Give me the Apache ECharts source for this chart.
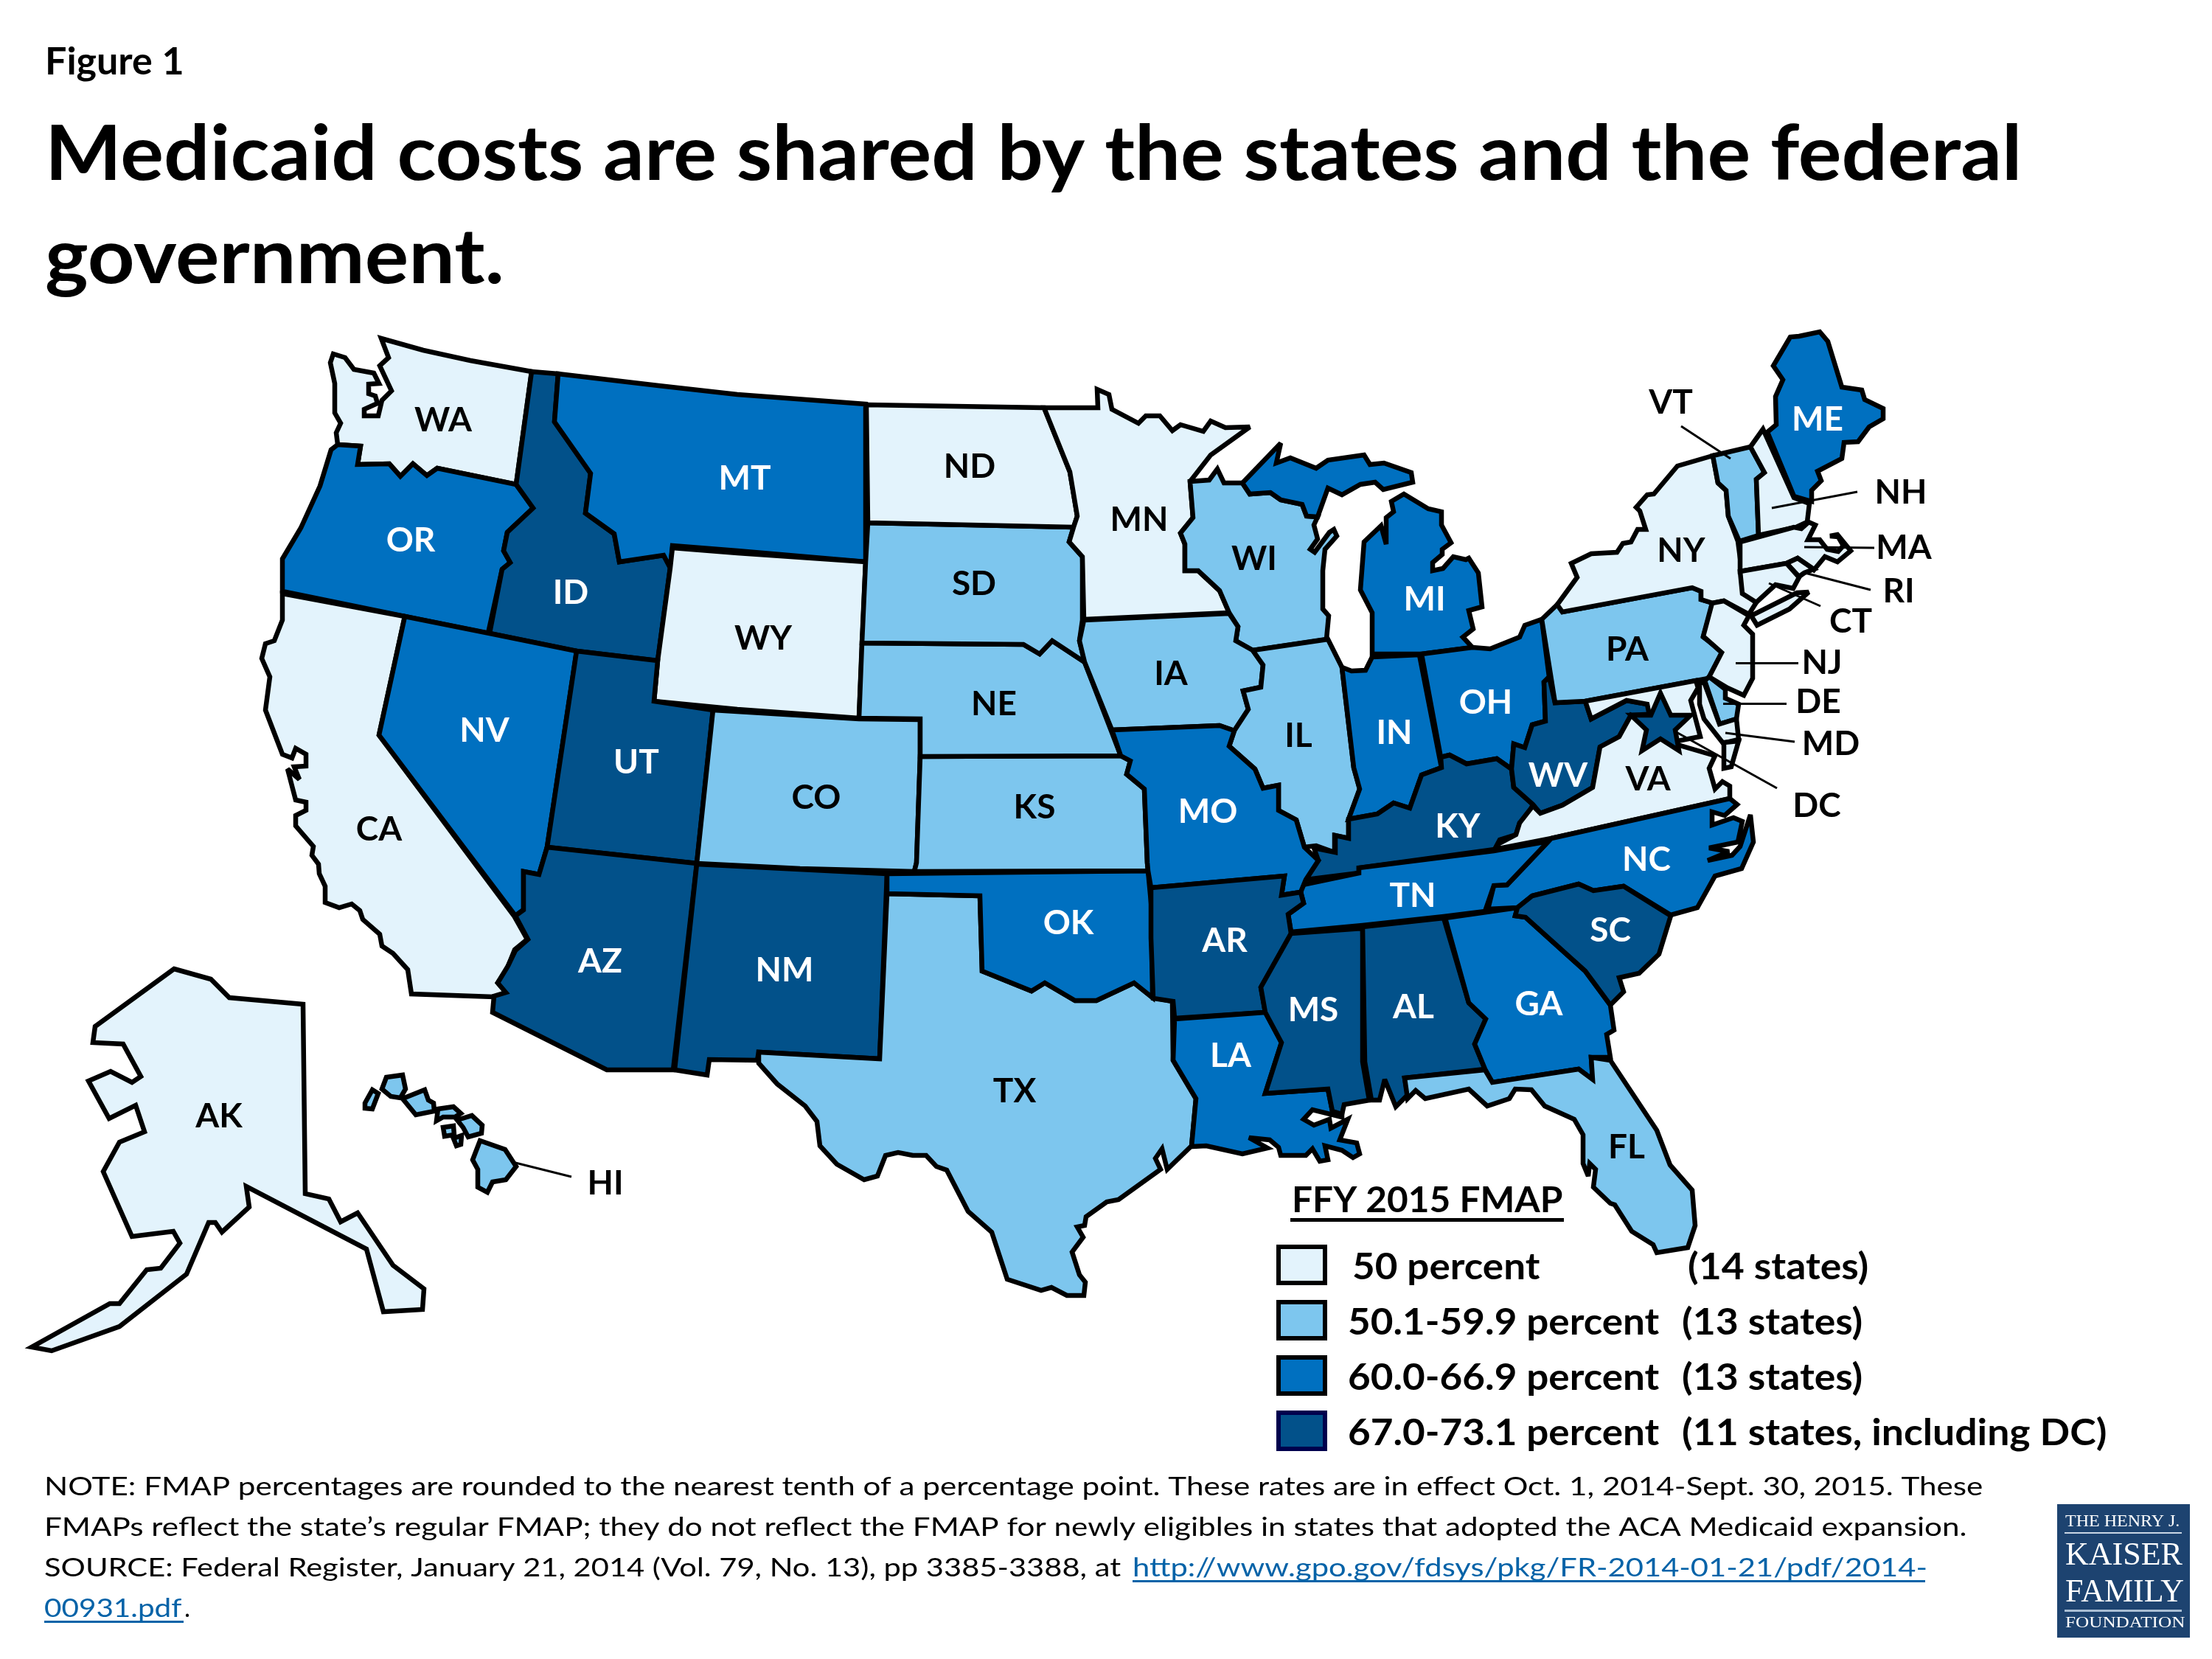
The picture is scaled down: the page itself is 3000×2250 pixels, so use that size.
<!DOCTYPE html>
<html>
<head>
<meta charset="utf-8">
<title>Medicaid FMAP FFY 2015</title>
<script src="https://cdn.jsdelivr.net/npm/echarts@6/dist/echarts.min.js"></script>
<style>
  html, body { margin: 0; padding: 0; background: #fff; }
  #chart { width: 3000px; height: 2250px; }
</style>
</head>
<body>
<div id="chart"></div>
<script>
// states per FMAP tier
const tier50 = ['AK', 'CA', 'CT', 'MA', 'MD', 'MN', 'ND', 'NH', 'NJ', 'NY', 'RI', 'VA', 'WA', 'WY']
const tier50to59 = ['CO', 'DE', 'FL', 'HI', 'IA', 'IL', 'KS', 'NE', 'PA', 'SD', 'TX', 'VT', 'WI']
const tier60to66 = ['GA', 'IN', 'LA', 'ME', 'MI', 'MO', 'MT', 'NC', 'NV', 'OH', 'OK', 'OR', 'TN']
const tier67to73 = ['AL', 'AR', 'AZ', 'DC', 'ID', 'KY', 'MS', 'NM', 'SC', 'UT', 'WV']
const tierValues = [50, 55, 63.5, 70]

const legendLabels = ['50 percent', '50.1-59.9 percent', '60.0-66.9 percent', '67.0-73.1 percent']
const legendCounts = ['(14 states)', '(13 states)', '(13 states)', '(11 states, including DC)']
const tierColors = ['#E3F3FC', '#7DC6EE', '#0070C0', '#02518A']
const tierLabelColors = ['#000', '#000', '#fff', '#fff']

// map geography (picture pixels): flat x,y lists, one list per ring
const stateShapes = {
  WA: [[517,459,574,475,638,489,721,504,700,657,593,635,579,645,560,629,543,646,528,629,485,630,489,605,458,603,456,587,462,574,454,560,454,520,448,492,452,480,468,485,480,501,507,506,514,520,500,521,500,534,509,537,512,547,494,555,494,564,513,564,518,543,531,530,515,496,527,485]],
  OR: [[458,603,489,605,485,630,528,629,543,646,560,629,579,645,593,635,700,657,723,689,688,722,683,747,692,763,681,772,662,859,549,836,383,802,383,758,408,716,434,659,449,610]],
  CA: [[383,805,549,836,514,997,697,1242,715,1274,698,1288,688,1313,675,1333,687,1347,670,1352,558,1348,553,1315,533,1293,518,1283,515,1267,492,1247,488,1235,477,1226,460,1231,441,1224,441,1202,433,1185,432,1172,423,1160,425,1148,401,1120,401,1106,415,1099,415,1088,401,1085,390,1043,406,1057,399,1040,415,1039,415,1023,401,1015,396,1028,383,1023,360,963,366,918,355,893,360,873,372,869,383,841]],
  ID: [[721,504,757,507,752,572,801,642,794,696,833,724,840,762,900,753,909,770,892,896,782,883,664,859,681,772,692,763,683,747,688,722,723,689,700,657]],
  MT: [[757,507,893,523,1000,535,1174,548,1174,762,1000,747,912,740,909,770,900,753,840,762,833,724,794,696,801,642,752,572]],
  WY: [[912,743,1000,750,1174,762,1165,974,1000,962,887,951,892,896,909,770]],
  NV: [[549,836,664,859,782,883,742,1149,731,1186,710,1182,710,1234,699,1242,514,997]],
  UT: [[782,883,892,896,887,951,967,963,945,1171,742,1149]],
  CO: [[967,963,1000,965,1165,975,1248,976,1248,1025,1243,1170,1240,1182,1085,1178,945,1171]],
  AZ: [[742,1149,945,1171,913,1451,823,1451,668,1373,670,1351,686,1346,675,1333,689,1310,699,1289,716,1274,699,1242,710,1234,710,1182,731,1186]],
  NM: [[945,1172,1203,1185,1193,1436,1029,1427,1027,1438,962,1437,959,1458,915,1451]],
  TX: [[1203,1212,1329,1215,1332,1317,1399,1344,1417,1333,1458,1357,1487,1357,1538,1333,1563,1353,1590,1358,1591,1438,1622,1490,1616,1554,1583,1586,1576,1558,1567,1571,1574,1586,1517,1627,1501,1630,1473,1650,1471,1662,1461,1664,1469,1678,1454,1698,1464,1729,1472,1739,1470,1757,1447,1757,1426,1746,1412,1750,1366,1735,1345,1671,1313,1643,1284,1587,1270,1582,1256,1567,1238,1567,1218,1563,1201,1567,1190,1595,1172,1600,1135,1579,1112,1554,1108,1521,1092,1500,1054,1470,1029,1442,1029,1427,1193,1436]],
  OK: [[1203,1185,1557,1181,1562,1234,1563,1353,1538,1333,1487,1357,1458,1357,1417,1333,1399,1344,1332,1317,1329,1215,1203,1212]],
  KS: [[1248,1026,1520,1025,1533,1032,1528,1050,1552,1070,1556,1170,1557,1181,1240,1182,1243,1170]],
  NE: [[1169,872,1388,874,1410,887,1427,869,1471,898,1507,991,1520,1025,1248,1026,1248,975,1165,974]],
  SD: [[1177,709,1456,715,1450,735,1468,755,1468,841,1464,869,1471,898,1427,869,1410,887,1388,874,1169,872,1174,762]],
  ND: [[1175,549,1416,553,1451,640,1461,700,1456,715,1177,709]],
  MN: [[1416,553,1489,553,1488,528,1504,535,1508,555,1544,574,1554,564,1573,564,1590,584,1601,576,1632,585,1642,571,1662,580,1695,579,1642,617,1614,653,1618,702,1601,723,1607,738,1607,774,1625,774,1654,801,1667,831,1470,840,1468,755,1450,735,1456,715,1461,700,1451,640]],
  WI: [[1614,653,1640,651,1651,636,1660,655,1685,655,1695,670,1723,668,1737,678,1766,684,1772,700,1787,701,1782,712,1787,731,1777,745,1783,749,1803,722,1809,718,1813,727,1797,745,1794,774,1794,826,1802,835,1799,867,1699,882,1676,869,1679,850,1667,831,1654,801,1625,774,1607,774,1607,738,1601,723,1618,702]],
  MI: [[1685,655,1737,601,1731,628,1750,621,1785,635,1801,624,1850,617,1858,630,1877,628,1914,641,1916,654,1876,664,1865,654,1845,657,1820,671,1801,662,1787,701,1772,700,1766,684,1737,678,1723,668,1695,670],
       [1861,887,1861,831,1845,800,1850,735,1873,713,1880,738,1880,702,1890,694,1887,680,1904,670,1937,690,1955,694,1955,712,1968,736,1956,745,1956,752,1943,763,1943,774,1957,771,1971,755,1988,759,1992,757,2005,777,2010,823,1992,828,1998,853,1984,864,1997,878,1928,887]],
  IA: [[1470,841,1667,832,1679,850,1676,869,1699,882,1713,902,1710,932,1686,937,1693,962,1674,991,1654,984,1508,990,1471,898,1464,869]],
  IL: [[1699,882,1801,867,1820,905,1836,1041,1844,1070,1829,1111,1829,1137,1810,1133,1810,1156,1785,1147,1769,1149,1758,1112,1734,1099,1734,1065,1713,1069,1702,1043,1667,1012,1674,991,1693,962,1686,937,1710,932,1713,902]],
  IN: [[1820,905,1833,910,1852,909,1861,891,1925,888,1955,1041,1928,1051,1912,1096,1890,1089,1868,1104,1829,1111,1844,1070,1836,1041]],
  OH: [[1928,887,1997,878,2021,880,2061,864,2068,848,2091,840,2101,918,2094,925,2096,978,2078,983,2068,1014,2053,1009,2050,1043,2030,1029,1989,1036,1966,1024,1954,1027]],
  KY: [[1954,1027,1966,1024,1989,1036,2030,1029,2050,1043,2053,1068,2079,1091,2071,1109,2061,1116,2056,1132,2034,1139,2027,1152,1843,1177,1843,1184,1771,1193,1788,1167,1782,1150,1811,1156,1811,1133,1829,1137,1829,1111,1868,1104,1890,1089,1912,1096,1928,1051,1955,1041]],
  WV: [[2101,918,2109,953,2150,951,2158,975,2206,950,2234,955,2252,968,2212,970,2196,999,2170,1013,2160,1068,2119,1092,2089,1103,2079,1091,2053,1068,2050,1043,2053,1009,2068,1014,2078,983,2096,978,2094,925]],
  PA: [[2091,840,2112,820,2119,830,2295,797,2307,802,2307,813,2323,818,2310,864,2336,884,2317,920,2150,951,2109,953]],
  NY: [[2112,820,2139,783,2131,764,2158,751,2193,749,2201,737,2212,735,2221,718,2232,718,2224,693,2219,688,2234,671,2243,670,2275,632,2323,618,2330,655,2341,665,2344,700,2357,734,2362,772,2364,805,2382,817,2372,833,2338,815,2323,818,2307,813,2307,802,2295,797,2119,830],
       [2375,835,2383,848,2427,826,2453,803,2437,804]],
  VT: [[2323,618,2374,606,2393,641,2382,650,2385,726,2359,734,2344,700,2341,665,2330,655]],
  NH: [[2374,606,2391,582,2433,675,2454,683,2451,708,2436,715,2385,726,2382,650,2393,641]],
  ME: [[2397,586,2409,576,2408,538,2418,515,2405,496,2428,457,2440,456,2468,450,2479,463,2498,525,2525,529,2529,542,2554,554,2554,568,2535,579,2520,599,2501,600,2498,622,2465,639,2470,652,2457,665,2457,680,2433,673]],
  MA: [[2360,735,2433,715,2443,717,2453,708,2462,712,2452,732,2468,732,2478,745,2493,748,2500,740,2493,728,2482,727,2492,725,2510,747,2492,762,2475,755,2460,773,2438,757,2423,764,2360,775]],
  RI: [[2423,764,2438,757,2460,772,2447,777,2440,782]],
  CT: [[2360,775,2423,764,2440,783,2432,798,2408,793,2382,817,2363,805]],
  NJ: [[2322,818,2338,815,2372,835,2365,848,2377,860,2377,920,2365,943,2343,933,2318,918,2335,885,2310,863]],
  DE: [[2312,923,2318,918,2340,935,2340,947,2358,955,2355,975,2332,982]],
  MD: [[2150,951,2300,923,2303,933,2293,950,2306,999,2265,1007,2240,985,2234,955,2206,950,2158,975],
       [2305,927,2311,925,2332,982,2355,975,2358,1003,2337,1008,2311,975,2305,955]],
  VA: [[2033,1144,2056,1132,2061,1116,2079,1093,2089,1103,2119,1092,2160,1068,2170,1013,2196,999,2212,970,2240,985,2265,1007,2326,1025,2318,1042,2326,1070,2336,1060,2346,1066,2346,1083,2104,1137,2027,1152],
       [2338,1007,2358,1005,2348,1040,2338,1042]],
  NC: [[2104,1137,2346,1083,2356,1091,2339,1106,2322,1101,2322,1119,2351,1109,2363,1114,2357,1142,2318,1150,2345,1155,2316,1167,2349,1160,2360,1148,2374,1105,2378,1142,2362,1178,2326,1188,2302,1231,2266,1241,2202,1202,2161,1208,2141,1199,2078,1215,2058,1231,2018,1233,2026,1201,2044,1200]],
  TN: [[2026,1154,2100,1141,2044,1200,2026,1201,2014,1236,1958,1243,1848,1255,1751,1264,1747,1240,1768,1225,1762,1201,1843,1184,1843,1177]],
  MO: [[1508,990,1654,984,1674,991,1667,1012,1702,1043,1713,1069,1734,1065,1734,1099,1758,1112,1769,1149,1788,1167,1771,1193,1764,1210,1738,1214,1742,1188,1561,1204,1557,1181,1556,1170,1552,1070,1528,1050,1533,1032,1520,1025]],
  AR: [[1561,1204,1742,1188,1738,1214,1764,1210,1768,1225,1747,1240,1751,1266,1710,1339,1716,1373,1593,1381,1591,1358,1564,1354,1561,1272]],
  LA: [[1593,1382,1716,1373,1738,1414,1716,1483,1801,1477,1807,1507,1820,1511,1820,1515,1780,1505,1768,1518,1782,1526,1803,1518,1805,1530,1828,1518,1817,1546,1840,1550,1844,1565,1835,1570,1820,1560,1797,1554,1801,1573,1790,1575,1780,1558,1771,1567,1737,1567,1734,1556,1722,1546,1694,1543,1719,1557,1685,1565,1636,1554,1616,1555,1622,1490,1591,1438]],
  MS: [[1751,1266,1848,1259,1848,1440,1857,1492,1823,1498,1820,1511,1807,1507,1801,1477,1716,1483,1738,1414,1716,1373,1710,1339]],
  AL: [[1848,1257,1958,1245,1992,1360,2015,1382,2000,1416,2014,1450,1905,1462,1909,1485,1893,1501,1878,1464,1871,1492,1860,1492,1851,1440]],
  GA: [[1960,1245,2058,1231,2055,1242,2069,1244,2150,1317,2184,1363,2189,1397,2179,1403,2184,1434,2158,1434,2160,1464,2141,1450,2024,1468,2014,1450,2000,1416,2015,1382,1992,1360]],
  SC: [[2058,1231,2078,1215,2141,1199,2161,1208,2202,1202,2266,1242,2250,1294,2223,1320,2196,1326,2202,1345,2184,1363,2150,1317,2069,1244,2055,1242]],
  FL: [[2184,1438,2247,1533,2265,1580,2295,1614,2299,1662,2289,1692,2247,1699,2242,1688,2213,1670,2190,1634,2184,1632,2161,1610,2164,1586,2156,1578,2154,1595,2147,1578,2147,1539,2135,1518,2095,1500,2077,1478,2055,1477,2047,1490,2017,1500,1992,1477,1933,1490,1920,1479,1909,1490,1905,1462,2014,1451,2024,1468,2141,1450,2160,1464,2158,1434]],
  AK: [[236,1314,286,1328,311,1353,411,1362,414,1619,446,1626,462,1657,485,1645,533,1716,575,1748,573,1776,520,1779,497,1694,334,1609,338,1637,301,1671,292,1658,283,1658,253,1728,162,1799,70,1832,43,1827,149,1768,162,1768,199,1722,218,1720,244,1686,235,1670,179,1677,140,1589,162,1549,196,1535,184,1499,148,1517,120,1466,150,1453,179,1468,191,1460,167,1416,126,1414,129,1392]],
  HI: [[505,1478,513,1483,505,1504,495,1503,495,1496],
       [524,1461,546,1458,550,1477,543,1489,530,1487,518,1477],
       [546,1490,576,1478,581,1492,588,1496,589,1507,564,1512],
       [594,1504,615,1501,625,1510,617,1515,601,1515,592,1520],
       [620,1519,640,1513,654,1526,653,1537,635,1542,628,1529],
       [601,1529,615,1527,616,1539,603,1541],
       [615,1544,626,1540,625,1552,619,1554],
       [651,1547,685,1559,700,1582,686,1600,668,1603,661,1617,648,1610,648,1586,641,1573]],
  DC: [[2252,940,2266,970,2293,970,2272,990,2277,1018,2252,1002,2227,1018,2233,990,2212,970,2239,970]]
}

// where each state's abbreviation sits
const labelPoints = {
  WA: [601,568], OR: [557,731], CA: [514,1123], ID: [774,802], MT: [1010,647], WY: [1035,864],
  NV: [657,989], UT: [863,1032], CO: [1107,1080], AZ: [814,1302], NM: [1064,1314], TX: [1376,1478],
  OK: [1449,1250], KS: [1403,1093], NE: [1348,953], SD: [1321,790], ND: [1315,631], MN: [1545,703],
  WI: [1701,756], MI: [1932,811], IA: [1588,912], IL: [1761,996], IN: [1891,992], OH: [2015,951],
  KY: [1977,1119], WV: [2113,1050], PA: [2207,879], NY: [2280,745], VT: [2266,544], NH: [2578,666],
  ME: [2465,567], MA: [2582,741], RI: [2575,800], CT: [2510,841], NJ: [2471,897], DE: [2466,950],
  MD: [2483,1007], VA: [2235,1055], NC: [2233,1164], TN: [1916,1213], MO: [1638,1099], AR: [1661,1274],
  LA: [1669,1430], MS: [1781,1368], AL: [1917,1364], GA: [2087,1360], SC: [2184,1260], FL: [2206,1554],
  AK: [297,1512], HI: [821,1603], DC: [2464,1091]
}

// leader lines from outside labels to the small states
const leaderLines = [
  [[2280,578],[2347,622]], [[2519,667],[2403,689]], [[2447,742],[2542,743]], [[2448,777],[2537,800]],
  [[2399,791],[2469,822]], [[2354,899],[2439,899]], [[2337,954],[2423,954]], [[2340,994],[2434,1006]],
  [[2270,991],[2410,1069]], [[695,1576],[775,1596]]
]

const tiers = [tier50, tier50to59, tier60to66, tier67to73]
const noteLines = [
  'NOTE: FMAP percentages are rounded to the nearest tenth of a percentage point. These rates are in effect Oct. 1, 2014-Sept. 30, 2015. These',
  'FMAPs reflect the state\u2019s regular FMAP; they do not reflect the FMAP for newly eligibles in states that adopted the ACA Medicaid expansion.',
  'SOURCE: Federal Register, January 21, 2014 (Vol. 79, No. 13), pp 3385-3388, at'
]
const linkLines = ['http://www.gpo.gov/fdsys/pkg/FR-2014-01-21/pdf/2014-', '00931.pdf']

const FONT = 'Lato'

const toRing = flat => {
  const ring = []
  for (let i = 0; i < flat.length; i += 2) ring.push([flat[i], flat[i + 1]])
  ring.push([flat[0], flat[1]])
  return ring
}

const features = Object.keys(stateShapes).map(code => ({
  type: 'Feature',
  properties: { name: code, cp: labelPoints[code] },
  geometry: { type: 'MultiPolygon', coordinates: stateShapes[code].map(flat => [toRing(flat)]) }
}))
echarts.registerMap('usStates', { type: 'FeatureCollection', features })

// keep the map 1:1 with the picture pixels
const allX = [], allY = []
Object.values(stateShapes).flat().forEach(flat => flat.forEach((v, i) => (i % 2 ? allY : allX).push(v)))
const mapBox = {
  left: Math.min(...allX),
  top: Math.min(...allY),
  width: Math.max(...allX) - Math.min(...allX),
  height: Math.max(...allY) - Math.min(...allY)
}
const flatProjection = { project: p => p, unproject: p => p }

const mapData = []
tiers.forEach((codes, t) => {
  codes.forEach(code => {
    // the DC abbreviation sits outside the map, on white
    const color = code === 'DC' ? '#000' : tierLabelColors[t]
    mapData.push({ name: code, value: tierValues[t], label: { color } })
  })
})

const text = (str, x, baseline, size, opts = {}) => ({
  type: 'text',
  x,
  y: baseline - size * (opts.mid || 0.33),
  silent: true,
  scaleX: opts.scaleX || 1,
  style: {
    text: str,
    fill: opts.color || '#000',
    fontFamily: opts.family || FONT,
    fontSize: size,
    fontWeight: opts.weight || 'normal',
    align: 'left',
    verticalAlign: 'middle'
  }
})
const bar = (x, y, width, height, fill) => ({
  type: 'rect', silent: true, shape: { x, y, width, height }, style: { fill }
})

const graphics = [
  text('Figure 1', 61, 101, 52, { weight: 'bold' }),
  text('Medicaid costs are shared by the states and the federal', 61, 245, 104, { weight: 'bold', scaleX: 1.058 }),
  text('government.', 61, 385, 104, { weight: 'bold', scaleX: 1.07 }),
  text('FFY 2015 FMAP', 1752, 1644, 47, { weight: 'bold', scaleX: 1.055 }),
  bar(1750, 1652, 371, 5, '#000')
]

const rowTop = [1688, 1763, 1838, 1913]
const rowBase = [1735, 1810, 1885, 1960]
legendLabels.forEach((label, i) => {
  graphics.push({
    type: 'rect',
    silent: true,
    shape: { x: 1734, y: rowTop[i] + 3, width: 63, height: 49 },
    style: { fill: tierColors[i], stroke: i === 3 ? '#00004D' : '#000', lineWidth: 6 }
  })
  graphics.push(text(label, i === 0 ? 1834 : 1828, rowBase[i], 50, { weight: 'bold', scaleX: 1.06 }))
  graphics.push(text(legendCounts[i], i === 0 ? 2289 : 2281, rowBase[i], 50, { weight: 'bold', scaleX: 1.07 }))
})

const noteBase = [2028, 2083, 2138]
const noteStretch = [1.24, 1.24, 1.225]
noteLines.forEach((line, i) => graphics.push(text(line, 60, noteBase[i], 34, { scaleX: noteStretch[i] })))
graphics.push(
  text(linkLines[0], 1536, 2138, 34, { color: '#0563A8', scaleX: 1.227 }),
  bar(1536, 2143, 1075, 3, '#0563A8'),
  text(linkLines[1], 60, 2193, 34, { color: '#0563A8', scaleX: 1.19 }),
  bar(60, 2198, 189, 3, '#0563A8'),
  text('.', 250, 2193, 34)
)

// logo block
const SERIF = 'Liberation Serif'
graphics.push(
  bar(2790, 2040, 180, 181, '#1D4370'),
  text('THE HENRY J.', 2801, 2071, 24, { color: '#fff', family: SERIF, mid: 0.3 }),
  bar(2800, 2078, 159, 2, '#C9D6E4'),
  text('KAISER', 2801, 2124, 44, { color: '#fff', family: SERIF, mid: 0.3 }),
  text('FAMILY', 2801, 2174, 44, { color: '#fff', family: SERIF, mid: 0.3 }),
  bar(2800, 2183, 159, 3, '#A9BED4'),
  text('FOUNDATION', 2801, 2208, 21, { color: '#fff', family: SERIF, mid: 0.3, scaleX: 1.2 })
)

const chart = echarts.init(document.getElementById('chart'), null, { renderer: 'canvas' })
chart.setOption({
  animation: false,
  backgroundColor: '#fff',
  visualMap: {
    show: false,
    type: 'piecewise',
    seriesIndex: 0,
    pieces: [
      { min: 50, max: 50, color: tierColors[0] },
      { min: 50.1, max: 59.9, color: tierColors[1] },
      { min: 60, max: 66.9, color: tierColors[2] },
      { min: 67, max: 73.1, color: tierColors[3] }
    ]
  },
  // transparent twin of the map, only there so the leader lines share its scale
  geo: {
    map: 'usStates',
    projection: flatProjection,
    roam: false,
    silent: true,
    ...mapBox,
    label: { show: false },
    itemStyle: { areaColor: 'transparent', borderWidth: 0 }
  },
  series: [
    {
      type: 'map',
      map: 'usStates',
      projection: flatProjection,
      roam: false,
      silent: true,
      selectedMode: false,
      ...mapBox,
      data: mapData,
      itemStyle: { borderColor: '#000', borderWidth: 6.5, borderJoin: 'miter', borderMiterLimit: 3 },
      label: { show: true, fontFamily: FONT, fontWeight: 'bold', fontSize: 46, formatter: '{b}', offset: [0, 2] }
    },
    {
      type: 'lines',
      coordinateSystem: 'geo',
      silent: true,
      z: 3,
      lineStyle: { color: '#000', width: 3, opacity: 1, curveness: 0 },
      data: leaderLines.map(coords => ({ coords }))
    }
  ],
  graphic: { elements: graphics }
})
</script>
</body>
</html>
